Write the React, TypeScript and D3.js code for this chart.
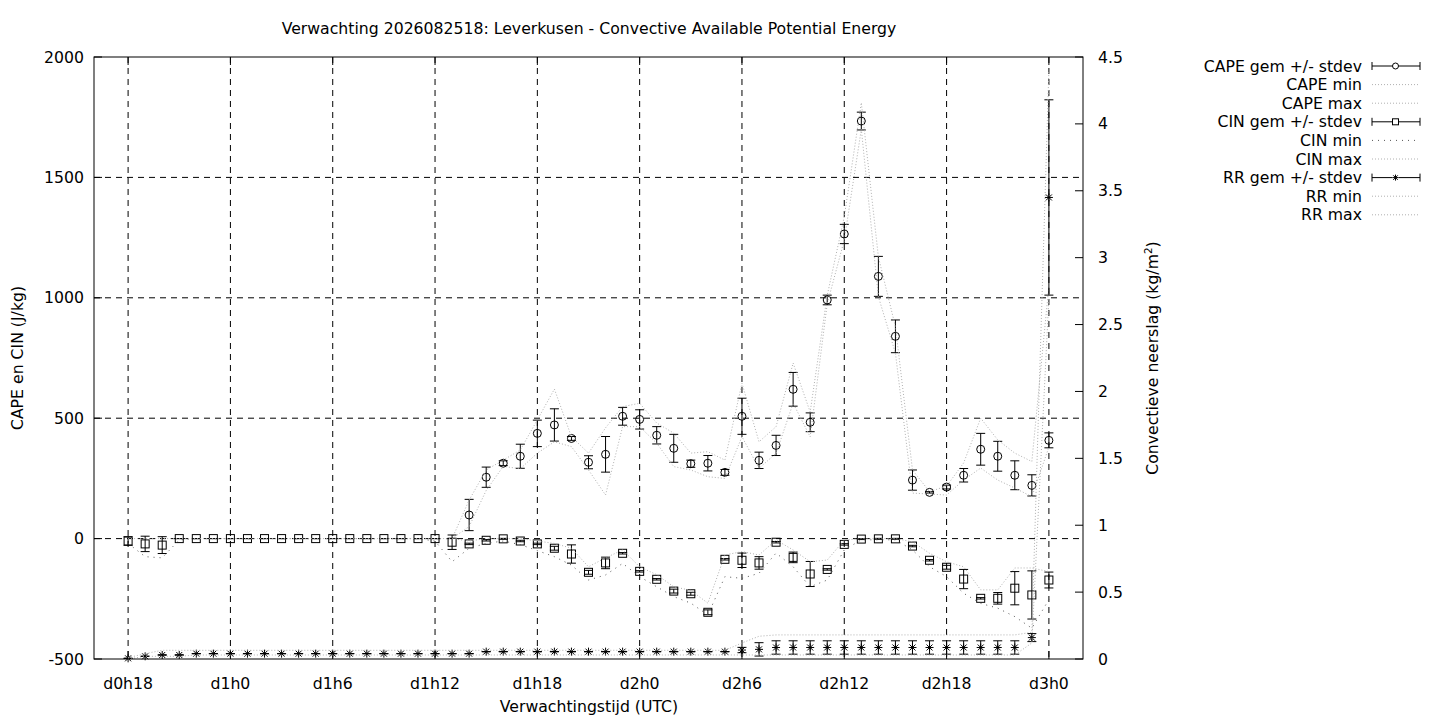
import * as d3 from 'd3'

// hours since d0h0, one value per hour from d0h18 to d3h0
const hours = d3.range(18, 73)

const xTickHours = [18, 24, 30, 36, 42, 48, 54, 60, 66, 72]
const xTickLabels = ['d0h18', 'd1h0', 'd1h6', 'd1h12', 'd1h18', 'd2h0', 'd2h6', 'd2h12', 'd2h18', 'd3h0']
const yLeftTicks = [-500, 0, 500, 1000, 1500, 2000]
const yRightTicks = [0, 0.5, 1, 1.5, 2, 2.5, 3, 3.5, 4, 4.5]

const N = null
// CAPE (J/kg), index 0 = h18
const capeMean = [
	N, N, N, N, N, N, N, N, N, N, N, N, N, N, N, N, N, N, N, N,
	98, 255, 313, 342, 437, 472, 416, 317, 350, 508, 495, 429, 375, 311, 313, 275, 508, 325, 387, 620,
	483, 991, 1265, 1734, 1089, 840, 243, 192, 214, 263, 371, 342, 263, 221, 408,
]
const capeSd = [
	N, N, N, N, N, N, N, N, N, N, N, N, N, N, N, N, N, N, N, N,
	65, 42, 10, 50, 55, 67, 8, 27, 74, 37, 40, 36, 58, 15, 32, 12, 75, 34, 42, 70,
	39, 20, 40, 37, 83, 68, 42, 3, 8, 28, 66, 62, 60, 44, 31,
]
const capeMin = [
	N, N, N, N, N, N, N, N, N, N, N, N, N, N, N, N, N, N, N, 0,
	50, 200, 300, 290, 355, 402, 382, 285, 181, 465, 465, 396, 299, 285, 257, 250, 423, 292, 354, 562,
	423, 975, 1240, 1700, 1005, 770, 189, 185, 181, 243, 293, 243, 210, 174, 380,
]
const capeMax = [
	N, N, N, N, N, N, N, N, N, N, N, N, N, N, N, N, N, N, N, 0,
	160, 285, 326, 368, 493, 621, 423, 355, 460, 548, 562, 480, 438, 355, 361, 326, 645, 402, 465, 729,
	526, 1010, 1337, 1810, 1170, 880, 285, 195, 218, 314, 500, 410, 355, 320, 1050,
]

// CIN (J/kg)
const cinMean = [
	-10, -22, -27, 0, 0, 0, 0, 0, 0, 0, 0, 0, 0, 0, 0, 0, 0, 0, 0, -15,
	-22, -7, -1, -10, -22, -40, -64, -140, -101, -61, -136, -169, -218, -229, -306, -86, -90, -101, -15, -78,
	-147, -128, -24, -2, -1, -1, -31, -90, -119, -168, -248, -248, -206, -234, -172,
]
const cinSd = [
	18, 32, 35, 0, 0, 0, 0, 0, 0, 0, 0, 0, 0, 0, 0, 0, 0, 0, 0, 30,
	3, 3, 2, 3, 3, 8, 38, 8, 24, 3, 3, 3, 8, 6, 10, 3, 30, 26, 3, 22,
	52, 3, 3, 2, 2, 2, 3, 3, 8, 40, 3, 24, 69, 100, 33,
]
const cinMin = [
	-20, -75, -80, -5, 0, 0, 0, 0, 0, 0, 0, 0, 0, 0, 0, 0, 0, 0, -10, -96,
	-40, -20, -10, -25, -50, -75, -110, -172, -151, -103, -158, -200, -241, -268, -317, -158, -165, -144, -60, -117,
	-200, -172, -47, -5, -5, -5, -47, -117, -158, -227, -269, -289, -324, -372, -253,
]
const cinMax = [
	0, 0, 0, 0, 0, 0, 0, 0, 0, 0, 0, 0, 0, 0, 0, 0, 0, 0, 0, 0,
	-10, 0, 0, 0, -10, -20, -40, -117, -80, -47, -117, -150, -200, -215, -268, -68, -54, -68, -6, -47,
	-96, -89, -6, 0, 0, 0, -13, -61, -96, -117, -213, -213, -122, -122, -137,
]

// convectieve neerslag RR (kg/m2)
const rrMean = [
	0.005, 0.02, 0.03, 0.03, 0.04, 0.04, 0.04, 0.04, 0.04, 0.04, 0.04, 0.04, 0.04, 0.04, 0.04, 0.04, 0.04, 0.04, 0.04, 0.04,
	0.04, 0.055, 0.055, 0.055, 0.055, 0.055, 0.055, 0.055, 0.055, 0.055, 0.055, 0.055, 0.055, 0.055, 0.055, 0.055, 0.067, 0.072, 0.086, 0.086,
	0.086, 0.086, 0.086, 0.086, 0.086, 0.086, 0.086, 0.086, 0.086, 0.086, 0.086, 0.086, 0.086, 0.16, 3.45,
]
const rrSd = [
	0, 0, 0, 0, 0, 0, 0, 0, 0, 0, 0, 0, 0, 0, 0, 0, 0, 0, 0, 0,
	0, 0, 0, 0, 0, 0, 0, 0, 0, 0, 0, 0, 0, 0, 0, 0, 0.02, 0.05, 0.05, 0.05,
	0.05, 0.05, 0.05, 0.05, 0.05, 0.05, 0.05, 0.05, 0.05, 0.05, 0.05, 0.05, 0.05, 0.03, 0.73,
]
const rrMin = [
	0, 0.02, 0.02, 0.02, 0.03, 0.03, 0.03, 0.03, 0.03, 0.03, 0.03, 0.03, 0.03, 0.03, 0.03, 0.03, 0.03, 0.03, 0.03, 0.03,
	0.03, 0.03, 0.03, 0.03, 0.03, 0.03, 0.03, 0.03, 0.03, 0.03, 0.03, 0.03, 0.03, 0.03, 0.03, 0.03, 0.03, 0.03, 0.03, 0.03,
	0.03, 0.03, 0.03, 0.03, 0.03, 0.03, 0.03, 0.03, 0.03, 0.03, 0.03, 0.03, 0.03, 0.12, 2.7,
]
const rrMax = [
	0.01, 0.04, 0.065, 0.065, 0.065, 0.065, 0.065, 0.065, 0.065, 0.065, 0.065, 0.065, 0.065, 0.065, 0.065, 0.065, 0.065, 0.065, 0.065, 0.065,
	0.065, 0.065, 0.065, 0.065, 0.065, 0.065, 0.065, 0.065, 0.065, 0.065, 0.065, 0.065, 0.065, 0.065, 0.065, 0.065, 0.12, 0.17, 0.18, 0.18,
	0.18, 0.18, 0.18, 0.18, 0.18, 0.18, 0.18, 0.18, 0.18, 0.18, 0.18, 0.18, 0.18, 0.2, 4.4,
]

const legendItems = [
	{ label: 'CAPE gem +/- stdev', kind: 'circle' },
	{ label: 'CAPE min', kind: 'fine' },
	{ label: 'CAPE max', kind: 'fine' },
	{ label: 'CIN gem +/- stdev', kind: 'square' },
	{ label: 'CIN min', kind: 'sparse' },
	{ label: 'CIN max', kind: 'fine' },
	{ label: 'RR gem +/- stdev', kind: 'star' },
	{ label: 'RR min', kind: 'fine' },
	{ label: 'RR max', kind: 'fine' },
]

const FONT = "'DejaVu Sans', Verdana, sans-serif"
const FS = 15.7
const margin = { left: 94, right: 1083, top: 57, bottom: 659 }
const fineDot = { stroke: '#b0b0b0', strokeDasharray: '1,2' }
const sparseDot = { stroke: '#555', strokeDasharray: '1,5' }

function Marker({ kind, x, y, s = 4 }: { kind: string; x: number; y: number; s?: number }) {
	if (kind === 'circle') return <circle cx={x} cy={y} r={s} fill="none" stroke="#000" />
	if (kind === 'square') return <rect x={x - s} y={y - s} width={2 * s} height={2 * s} fill="none" stroke="#000" />
	return (
		<g stroke="#000">
			<line x1={x - s} x2={x + s} y1={y} y2={y} />
			<line x1={x} x2={x} y1={y - s} y2={y + s} />
			<line x1={x - s * 0.75} x2={x + s * 0.75} y1={y - s * 0.75} y2={y + s * 0.75} />
			<line x1={x - s * 0.75} x2={x + s * 0.75} y1={y + s * 0.75} y2={y - s * 0.75} />
		</g>
	)
}

export default function App() {
	const x = d3.scaleLinear().domain([16, 74]).range([margin.left, margin.right])
	const yL = d3.scaleLinear().domain([-500, 2000]).range([margin.bottom, margin.top])
	const yR = d3.scaleLinear().domain([0, 4.5]).range([margin.bottom, margin.top])

	const mkLine = (scale: d3.ScaleLinear<number, number>) =>
		d3
			.line<[number, number | null]>()
			.defined((d) => d[1] != null)
			.x((d) => x(d[0]))
			.y((d) => scale(d[1] as number))

	const pairs = (vals: (number | null)[]) => hours.map((h, i) => [h, vals[i]] as [number, number | null])

	const errorSeries = (
		mean: (number | null)[],
		sd: (number | null)[],
		scale: d3.ScaleLinear<number, number>,
		kind: string,
	) =>
		hours.map((h, i) => {
			const m = mean[i]
			if (m == null) return null
			const s = sd[i] ?? 0
			const cx = x(h)
			const y1 = scale(m - s)
			const y2 = scale(m + s)
			return (
				<g key={`${kind}-${h}`}>
					<g stroke="#000">
						<line x1={cx} x2={cx} y1={y1} y2={y2} />
						<line x1={cx - 4.5} x2={cx + 4.5} y1={y1} y2={y1} />
						<line x1={cx - 4.5} x2={cx + 4.5} y1={y2} y2={y2} />
					</g>
					<Marker kind={kind} x={cx} y={scale(m)} />
				</g>
			)
		})

	const lineL = mkLine(yL)
	const lineR = mkLine(yR)

	return (
		<svg
			width={1440}
			height={720}
			style={{ position: 'absolute', left: 0, top: 0, background: '#fff' }}
			fontFamily={FONT}
		>
			<rect width={1440} height={720} fill="#fff" />
			<text x={589} y={34} textAnchor="middle" fontSize={FS}>
				Verwachting 2026082518: Leverkusen - Convective Available Potential Energy
			</text>

			{/* grid */}
			<g stroke="#000" strokeDasharray="6,5" strokeWidth={1}>
				{xTickHours.map((h) => (
					<line key={h} x1={x(h)} x2={x(h)} y1={margin.top} y2={margin.bottom} />
				))}
				{yLeftTicks.slice(1, -1).map((t) => (
					<line key={t} x1={margin.left} x2={margin.right} y1={yL(t)} y2={yL(t)} />
				))}
			</g>

			{/* ticks */}
			<g stroke="#000">
				{xTickHours.map((h) => (
					<g key={h}>
						<line x1={x(h)} x2={x(h)} y1={margin.bottom} y2={margin.bottom - 8} />
						<line x1={x(h)} x2={x(h)} y1={margin.top} y2={margin.top + 8} />
					</g>
				))}
				{yLeftTicks.map((t) => (
					<line key={t} x1={margin.left} x2={margin.left + 8} y1={yL(t)} y2={yL(t)} />
				))}
				{yRightTicks.map((t) => (
					<line key={t} x1={margin.right} x2={margin.right - 8} y1={yR(t)} y2={yR(t)} />
				))}
			</g>

			<g fontSize={FS}>
				{xTickHours.map((h, i) => (
					<text key={h} x={x(h)} y={689} textAnchor="middle">
						{xTickLabels[i]}
					</text>
				))}
				{yLeftTicks.map((t) => (
					<text key={t} x={84} y={yL(t) + 5.5} textAnchor="end">
						{t}
					</text>
				))}
				{yRightTicks.map((t) => (
					<text key={t} x={1098} y={yR(t) + 5.5}>
						{t}
					</text>
				))}
				<text x={589} y={712} textAnchor="middle">
					Verwachtingstijd (UTC)
				</text>
				<text transform="translate(23,358) rotate(-90)" textAnchor="middle">
					CAPE en CIN (J/kg)
				</text>
				<text transform="translate(1158,358) rotate(-90)" textAnchor="middle">
					Convectieve neerslag (kg/m
					<tspan dy={-6} fontSize={10.5}>
						2
					</tspan>
					<tspan dy={6}>)</tspan>
				</text>
			</g>

			{/* series */}
			<g>{errorSeries(capeMean, capeSd, yL, 'circle')}</g>
			<path d={lineL(pairs(capeMin)) ?? ''} fill="none" {...fineDot} />
			<path d={lineL(pairs(capeMax)) ?? ''} fill="none" {...fineDot} />
			<g>{errorSeries(cinMean, cinSd, yL, 'square')}</g>
			<path d={lineL(pairs(cinMin)) ?? ''} fill="none" {...sparseDot} />
			<path d={lineL(pairs(cinMax)) ?? ''} fill="none" {...fineDot} />
			<g>{errorSeries(rrMean, rrSd, yR, 'star')}</g>
			<path d={lineR(pairs(rrMin)) ?? ''} fill="none" {...fineDot} />
			<path d={lineR(pairs(rrMax)) ?? ''} fill="none" {...fineDot} />

			{/* frame */}
			<rect
				x={margin.left}
				y={margin.top}
				width={margin.right - margin.left}
				height={margin.bottom - margin.top}
				fill="none"
				stroke="#000"
			/>

			{/* legend */}
			<g fontSize={FS}>
				{legendItems.map((item, i) => {
					const ly = 66 + i * 18.6
					const isErr = item.kind === 'circle' || item.kind === 'square' || item.kind === 'star'
					return (
						<g key={item.label}>
							<text x={1362} y={ly + 5.5} textAnchor="end">
								{item.label}
							</text>
							{isErr ? (
								<g>
									<g stroke="#000">
										<line x1={1372} x2={1420} y1={ly} y2={ly} />
										<line x1={1372} x2={1372} y1={ly - 4} y2={ly + 4} />
										<line x1={1420} x2={1420} y1={ly - 4} y2={ly + 4} />
									</g>
									<rect x={1392.5} y={ly - 3} width={6} height={6} fill="#fff" />
									<Marker kind={item.kind} x={1395.5} y={ly} s={3} />
								</g>
							) : (
								<line
									x1={1372}
									x2={1419}
									y1={ly}
									y2={ly}
									{...(item.kind === 'sparse' ? sparseDot : fineDot)}
								/>
							)}
						</g>
					)
				})}
			</g>
		</svg>
	)
}
